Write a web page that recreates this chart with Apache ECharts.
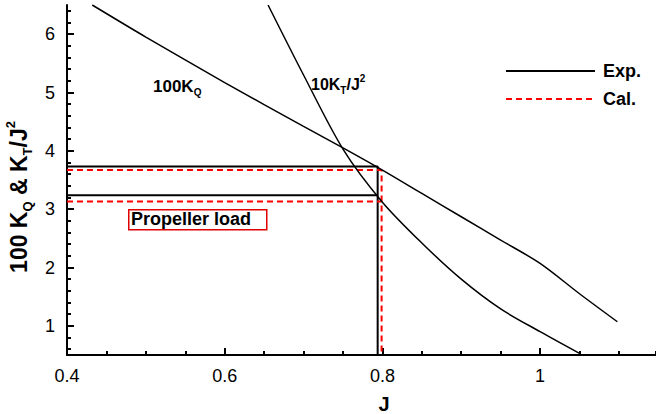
<!DOCTYPE html>
<html>
<head>
<meta charset="utf-8">
<script src="https://cdn.jsdelivr.net/npm/echarts@6/dist/echarts.min.js"></script>
<style>
html,body{margin:0;padding:0;background:#fff;}
#c{width:656px;height:414px;}
</style>
</head>
<body>
<div id="c"></div>
<script>
// ---- data ----
const jKQ   = [0.432, 0.5, 0.6, 0.7, 0.75, 0.8, 0.85, 0.9, 0.95, 1.0, 1.05, 1.098];
const kq100 = [6.5, 5.95, 5.17, 4.42, 4.05, 3.67, 3.27, 2.87, 2.47, 2.07, 1.55, 1.07];
const jKT   = [0.655, 0.7, 0.75, 0.8, 0.85, 0.9, 0.95, 1.0, 1.051];
const kt10  = [6.5, 5.3, 4.03, 3.12, 2.42, 1.8, 1.29, 0.9, 0.52];
// operating point (propeller load) lines
const expJ = 0.794, expUpper = 3.73, expLower = 3.24;
const calJ = 0.799, calUpper = 3.67, calLower = 3.13;
const yMajorTicks = [1, 2, 3, 4, 5, 6];
const yMinorTicks = [0.6, 0.8, 1.2, 1.4, 1.6, 1.8, 2.2, 2.4, 2.6, 2.8, 3.2, 3.4, 3.6, 3.8,
                     4.2, 4.4, 4.6, 4.8, 5.2, 5.4, 5.6, 5.8, 6.2, 6.4];
const xMin = 0.4, xMax = 1.147, yMin = 0.5, yMax = 6.5;

const pairs = (xs, ys) => xs.map((x, i) => [x, ys[i]]);
const FONT = 'Liberation Sans, Arial, sans-serif';
const GRID = {left: 67, right: 0, top: 5, bottom: 59};
const plotW = 656 - GRID.left - GRID.right;

const chart = echarts.init(document.getElementById('c'), null, {renderer: 'svg'});

const blackLine = {color: '#000', width: 1.5, type: 'solid'};
const redDash = {color: '#ff0000', width: 2, type: [6, 4]};

chart.setOption({
  animation: false,
  grid: Object.assign({containLabel: false}, GRID),
  legend: {
    orient: 'vertical', left: 500, top: 57,
    itemWidth: 89, itemHeight: 14, itemGap: 10,
    data: ['Exp.', 'Cal.'],
    itemStyle: {opacity: 0},
    textStyle: {fontFamily: FONT, fontSize: 18, fontWeight: 'bold', color: '#000', padding: [0, 0, 0, 3]}
  },
  xAxis: [{
    type: 'value', min: xMin, max: xMax, interval: 0.2,
    axisLine: {show: true, lineStyle: {color: '#000', width: 2}},
    axisTick: {show: true, inside: true, length: 7, lineStyle: {color: '#000', width: 2}},
    axisLabel: {show: true, showMaxLabel: false, margin: 12, color: '#000', fontFamily: FONT, fontSize: 18,
                formatter: v => (Math.abs(v - 1) < 1e-9 ? '1' : v.toFixed(1))},
    splitLine: {show: false}
  }, {
    type: 'value', min: xMin, max: xMax, interval: 0.05, position: 'bottom',
    axisLine: {show: false},
    axisTick: {show: true, inside: true, length: 4, lineStyle: {color: '#000', width: 2}},
    axisLabel: {show: false},
    splitLine: {show: false}
  }],
  yAxis: [{
    type: 'value', min: yMin, max: yMax,
    axisLine: {show: true, lineStyle: {color: '#000', width: 2}},
    axisTick: {show: false},
    axisLabel: {show: true, customValues: yMajorTicks, margin: 12, color: '#000', fontFamily: FONT, fontSize: 18},
    splitLine: {show: false}
  }, {
    type: 'value', min: yMin, max: yMax, position: 'right', offset: -plotW,
    axisLine: {show: false},
    axisTick: {show: true, length: 7, lineStyle: {color: '#000', width: 2}, customValues: yMajorTicks},
    axisLabel: {show: false},
    splitLine: {show: false}
  }, {
    type: 'value', min: yMin, max: yMax, position: 'right', offset: -plotW,
    axisLine: {show: false},
    axisTick: {show: true, length: 4, lineStyle: {color: '#000', width: 2}, customValues: yMinorTicks},
    axisLabel: {show: false},
    splitLine: {show: false}
  }],
  series: [
    {name: 'Exp.', type: 'line', symbol: 'none', smooth: 0.3,
     lineStyle: blackLine, itemStyle: {color: '#000'}, data: pairs(jKQ, kq100), z: 3},
    {name: 'Exp.', type: 'line', symbol: 'none', smooth: 0.3,
     lineStyle: blackLine, itemStyle: {color: '#000'}, data: pairs(jKT, kt10), z: 3},
    {name: 'Exp.', type: 'line', symbol: 'none', lineStyle: {color: '#000', width: 2},
     itemStyle: {color: '#000'}, data: [[xMin, expUpper], [expJ, expUpper], [expJ, yMin]], z: 2},
    {name: 'Exp.', type: 'line', symbol: 'none', lineStyle: {color: '#000', width: 2},
     itemStyle: {color: '#000'}, data: [[xMin, expLower], [expJ, expLower]], z: 2},
    {name: 'Cal.', type: 'line', symbol: 'none', lineStyle: redDash,
     itemStyle: {color: '#ff0000'}, data: [[xMin, calUpper], [calJ, calUpper], [calJ, yMin]], z: 2},
    {name: 'Cal.', type: 'line', symbol: 'none', lineStyle: redDash,
     itemStyle: {color: '#ff0000'}, data: [[xMin, calLower], [calJ, calLower]], z: 2}
  ],
  graphic: [
    {type: 'text', x: 19, y: 197, rotation: Math.PI / 2, style: {
      text: '{b|100 K}{s|Q}{b| & K}{s|T}{b|/J}{p|2}', align: 'center', verticalAlign: 'middle',
      rich: {
        b: {fontFamily: FONT, fontSize: 23, fontWeight: 'bold', fill: '#000', lineHeight: 30, verticalAlign: 'middle'},
        s: {fontFamily: FONT, fontSize: 13, fontWeight: 'bold', fill: '#000', lineHeight: 30, verticalAlign: 'bottom'},
        p: {fontFamily: FONT, fontSize: 13, fontWeight: 'bold', fill: '#000', lineHeight: 30, verticalAlign: 'top'}
      }}},
    {type: 'text', x: 384, y: 404, style: {
      text: 'J', align: 'center', verticalAlign: 'middle',
      fontFamily: FONT, fontSize: 20, fontWeight: 'bold', fill: '#000'}},
    {type: 'text', left: 153, top: 78, style: {
      text: '{b|100K}{s|Q}', rich: {
        b: {fontFamily: FONT, fontSize: 17, fontWeight: 'bold', fill: '#000', lineHeight: 22, verticalAlign: 'middle'},
        s: {fontFamily: FONT, fontSize: 10, fontWeight: 'bold', fill: '#000', lineHeight: 22, verticalAlign: 'bottom'}
      }}},
    {type: 'text', left: 311, top: 73, style: {
      text: '{b|10K}{s|T}{b|/J}{p|2}', rich: {
        b: {fontFamily: FONT, fontSize: 16, fontWeight: 'bold', fill: '#000', lineHeight: 22, verticalAlign: 'middle'},
        s: {fontFamily: FONT, fontSize: 10, fontWeight: 'bold', fill: '#000', lineHeight: 22, verticalAlign: 'bottom'},
        p: {fontFamily: FONT, fontSize: 10, fontWeight: 'bold', fill: '#000', lineHeight: 22, verticalAlign: 'top'}
      }}},
    {type: 'rect', left: 128, top: 209, shape: {width: 138, height: 20},
     style: {fill: '#fff', stroke: '#e00000', lineWidth: 1.5}},
    {type: 'text', left: 131, top: 210, style: {
      text: 'Propeller load', fontFamily: FONT, fontSize: 18, fontWeight: 'bold', fill: '#000'}}
  ]
});
</script>
</body>
</html>
